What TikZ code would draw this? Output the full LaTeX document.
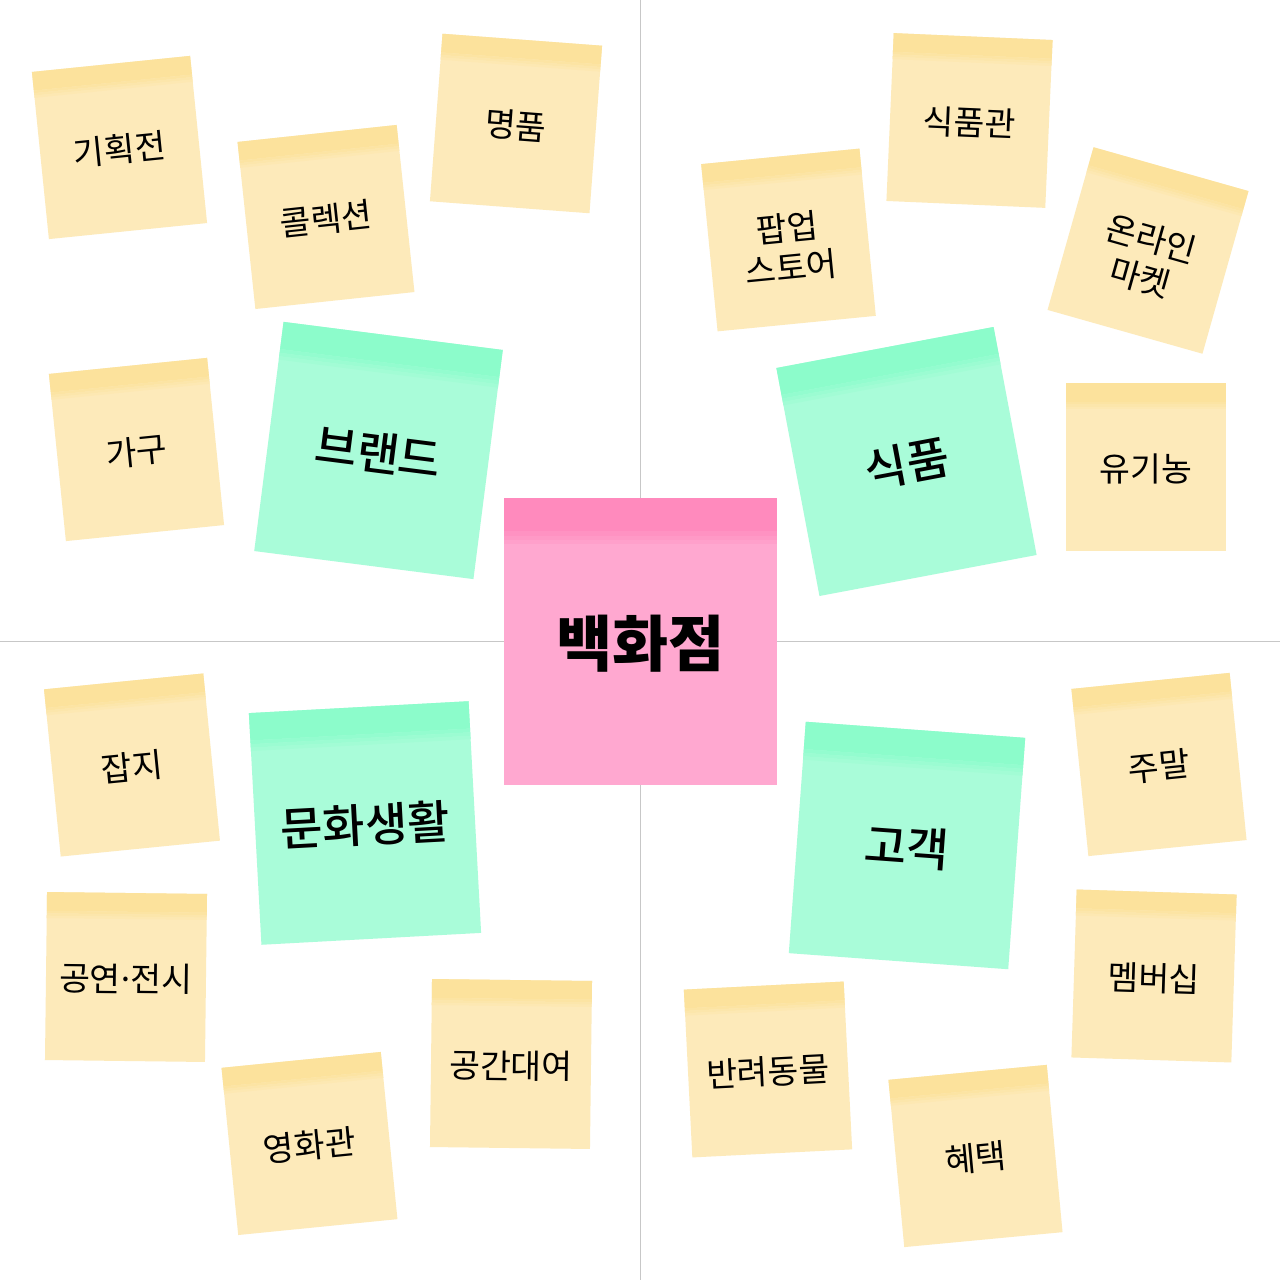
\documentclass[tikz,border=0pt]{standalone}
\usepackage{fontspec}
\newfontfamily\kr{Noto Sans CJK KR}
\newfontfamily\krmed{Noto Sans CJK KR Medium}
\newfontfamily\krblack{Noto Sans CJK KR Black}
\definecolor{ybody}{HTML}{FDEABA}
\definecolor{ystrip}{HTML}{FCE29C}
\colorlet{y2body}{ybody}
\colorlet{y2strip}{ystrip}
\definecolor{gbody}{HTML}{A9FCD9}
\definecolor{gstrip}{HTML}{8CFCCB}
\definecolor{pbody}{HTML}{FFA8D0}
\definecolor{pstrip}{HTML}{FF8ABD}
\tikzset{
  x=1pt, y=-1pt,
  axisline/.style={draw=black!22, line width=1pt},
  ytext/.style={font={\kr\fontsize{33.5}{40}\selectfont}, align=center, inner sep=0pt, transform shape, yshift=-2pt},
  y2text/.style={ytext, yshift=-6pt},
  gtext/.style={font={\krmed\fontsize{46}{54}\selectfont}, align=center, inner sep=0pt, transform shape, yshift=-2pt},
  ptext/.style={font={\krblack\fontsize{61}{70}\selectfont}, align=center, inner sep=0pt, transform shape, yshift=-2pt},
}
% #1 name, #2 cx, #3 cy, #4 rotation, #5 width, #6 height, #7 kind, #8 strip height, #9 text
\newcommand\sticky[9]{%
  \begin{scope}[shift={(#2,#3)}, rotate=#4]
    \fill[#7body] (-#5/2,-#6/2) rectangle (#5/2,#6/2);
    \fill[#7strip] (-#5/2,-#6/2) rectangle (#5/2,-#6/2+0.72*#8);
    \fill[#7strip!75!#7body] (-#5/2,-#6/2+0.72*#8) rectangle (#5/2,-#6/2+0.82*#8);
    \fill[#7strip!50!#7body] (-#5/2,-#6/2+0.82*#8) rectangle (#5/2,-#6/2+0.91*#8);
    \fill[#7strip!25!#7body] (-#5/2,-#6/2+0.91*#8) rectangle (#5/2,-#6/2+#8);
    \node[#7text] (#1) at (0,0) {#9};
  \end{scope}}
\begin{document}
\begin{tikzpicture}
  \fill[white] (0,0) rectangle (1280,1280);
  \useasboundingbox (0,0) rectangle (1280,1280);
  \coordinate (vtop) at (640,0);
  \coordinate (vbot) at (640,1280);
  \coordinate (hleft) at (0,641);
  \coordinate (hright) at (1280,641);
  \draw[axisline] (vtop) -- (vbot);
  \draw[axisline] (hleft) -- (hright);

  % centre
  \sticky{center}{640.5}{641.5}{0}{273}{287}{p}{46}{백화점}
  % categories
  \sticky{brand}{378.5}{450.5}{-7.3}{221}{231}{g}{38}{브랜드}
  \sticky{food}{906.5}{461.5}{10.7}{221}{232}{g}{38}{식품}
  \sticky{culture}{365}{823}{3.1}{220}{232}{g}{38}{문화생활}
  \sticky{customer}{907}{845.5}{-4.2}{220}{232}{g}{38}{고객}
  % brand group
  \sticky{n1}{119.5}{147.5}{5.8}{159}{168}{y}{26}{기획전}
  \sticky{n2}{326}{217}{6.1}{160}{168}{y}{26}{콜렉션}
  \sticky{n3}{516}{123.5}{-4.3}{160}{168}{y}{26}{명품}
  \sticky{n4}{136.5}{449.5}{5.8}{159}{168}{y}{26}{가구}
  % food group
  \sticky{n5}{969.5}{120.5}{-2.5}{159}{168}{y}{26}{식품관}
  \sticky{n6}{788.5}{240}{5.6}{159}{168}{y2}{26}{팝업\\스토어}
  \sticky{n7}{1148}{250.5}{-15.8}{161}{169}{y2}{26}{온라인\\마켓}
  \sticky{n8}{1146}{467}{0}{160}{168}{y}{26}{유기농}
  % culture group
  \sticky{n9}{132}{765}{5.7}{160}{168}{y}{26}{잡지}
  \sticky{n10}{126}{977}{-0.7}{160}{168}{y}{26}{공연\makebox[0.3em]{·}전시}
  \sticky{n11}{309.5}{1143.5}{5.7}{160}{168}{y}{26}{영화관}
  \sticky{n12}{511}{1064}{-0.7}{160}{168}{y}{26}{공간대여}
  % customer group
  \sticky{n13}{1159}{764.5}{5.8}{159}{168}{y}{26}{주말}
  \sticky{n14}{1154}{976}{-1.8}{160}{168}{y}{26}{멤버십}
  \sticky{n15}{768}{1069.5}{2.9}{160}{168}{y}{26}{반려동물}
  \sticky{n16}{975.5}{1156}{5.4}{159}{168}{y}{26}{혜택}
\end{tikzpicture}
\end{document}
